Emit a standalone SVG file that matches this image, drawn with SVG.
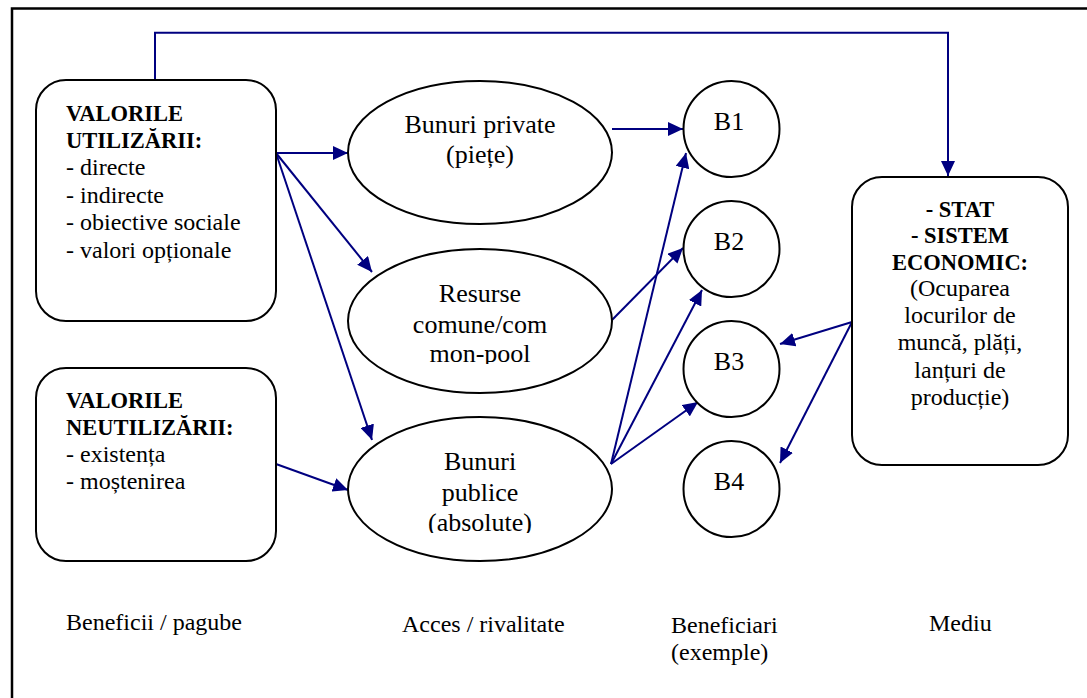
<svg xmlns="http://www.w3.org/2000/svg" width="1087" height="698" viewBox="0 0 1087 698" font-family="Liberation Serif, serif">
<style>
.shape{fill:#fff;stroke:#000;stroke-width:2}
.frame{fill:none;stroke:#000;stroke-width:2.5}
.con{fill:none;stroke:#000080;stroke-width:2}
</style>
<defs>
<marker id="ah" markerUnits="userSpaceOnUse" markerWidth="16" markerHeight="14" refX="15" refY="7" orient="auto">
<path d="M0,0 L15,7 L0,14 z" fill="#000080"/>
</marker>
<clipPath id="c2"><rect x="340" y="240" width="280" height="124"/></clipPath>
<clipPath id="c3"><rect x="340" y="410" width="280" height="123"/></clipPath>
</defs>
<rect class="frame" x="12" y="8.5" width="1200" height="800"/>
<g id="connectors">
<polyline class="con" points="155,80 155,32.7 948,32.7 948,176" marker-end="url(#ah)"/>
<line class="con" x1="276" y1="153" x2="348" y2="153" marker-end="url(#ah)"/>
<line class="con" x1="276" y1="153" x2="372" y2="272" marker-end="url(#ah)"/>
<line class="con" x1="276" y1="153" x2="372" y2="440" marker-end="url(#ah)"/>
<line class="con" x1="276" y1="464" x2="348" y2="490" marker-end="url(#ah)"/>
<line class="con" x1="612" y1="129" x2="683" y2="129" marker-end="url(#ah)"/>
<line class="con" x1="612" y1="320" x2="683" y2="248" marker-end="url(#ah)"/>
<line class="con" x1="611" y1="464" x2="686" y2="153" marker-end="url(#ah)"/>
<line class="con" x1="611" y1="464" x2="702" y2="290" marker-end="url(#ah)"/>
<line class="con" x1="611" y1="464" x2="698" y2="402" marker-end="url(#ah)"/>
<line class="con" x1="852" y1="322" x2="780" y2="344" marker-end="url(#ah)"/>
<line class="con" x1="852" y1="322" x2="780" y2="463" marker-end="url(#ah)"/>
</g>
<g id="box-utilizarii" font-family="Liberation Serif, serif" font-size="24">
<rect class="shape" x="36" y="80" width="240" height="241" rx="30" ry="30"/>
<text x="66" y="121" font-weight="bold" font-size="22.5">VALORILE</text>
<text x="66" y="148" font-weight="bold" font-size="22.5">UTILIZĂRII:</text>
<text x="66" y="175">- directe</text>
<text x="66" y="202.5">- indirecte</text>
<text x="66" y="230">- obiective sociale</text>
<text x="66" y="257.5">- valori opționale</text>
</g>
<g id="box-neutilizarii" font-family="Liberation Serif, serif" font-size="24">
<rect class="shape" x="36" y="368" width="240" height="193" rx="30" ry="30"/>
<text x="66" y="408" font-weight="bold" font-size="22.5">VALORILE</text>
<text x="66" y="435" font-weight="bold" font-size="22.5">NEUTILIZĂRII:</text>
<text x="66" y="462">- existența</text>
<text x="66" y="489">- moștenirea</text>
</g>
<g id="bunuri-private" font-family="Liberation Serif, serif" font-size="26" text-anchor="middle">
<ellipse class="shape" cx="480" cy="152.5" rx="132" ry="71.5"/>
<text x="480" y="133">Bunuri private</text>
<text x="480" y="163">(piețe)</text>
</g>
<g id="resurse-comune" font-family="Liberation Serif, serif" font-size="26" text-anchor="middle">
<ellipse class="shape" cx="480" cy="321" rx="132" ry="72"/>
<g clip-path="url(#c2)">
<text x="480" y="302">Resurse</text>
<text x="480" y="332.5">comune/com</text>
<text x="480" y="362">mon-pool</text>
</g>
</g>
<g id="bunuri-publice" font-family="Liberation Serif, serif" font-size="26" text-anchor="middle">
<ellipse class="shape" cx="480" cy="489" rx="132" ry="72"/>
<g clip-path="url(#c3)">
<text x="480" y="470">Bunuri</text>
<text x="480" y="500.5">publice</text>
<text x="480" y="531">(absolute)</text>
</g>
</g>
<g id="b1" font-family="Liberation Serif, serif" font-size="26" text-anchor="middle">
<circle class="shape" cx="731.5" cy="129" r="48"/>
<text x="729" y="130">B1</text>
</g>
<g id="b2" font-family="Liberation Serif, serif" font-size="26" text-anchor="middle">
<circle class="shape" cx="731.5" cy="249" r="48"/>
<text x="729" y="250">B2</text>
</g>
<g id="b3" font-family="Liberation Serif, serif" font-size="26" text-anchor="middle">
<circle class="shape" cx="731.5" cy="369" r="48"/>
<text x="729" y="370">B3</text>
</g>
<g id="b4" font-family="Liberation Serif, serif" font-size="26" text-anchor="middle">
<circle class="shape" cx="731.5" cy="489" r="48"/>
<text x="729" y="490">B4</text>
</g>
<g id="box-stat" font-family="Liberation Serif, serif" font-size="24" text-anchor="middle">
<rect class="shape" x="852" y="177" width="216" height="288" rx="30" ry="30"/>
<text x="960" y="216.7" font-weight="bold" font-size="22.5">- STAT</text>
<text x="960" y="243.3" font-weight="bold" font-size="22.5">- SISTEM</text>
<text x="960" y="269.5" font-weight="bold" font-size="22.5">ECONOMIC:</text>
<text x="960" y="296">(Ocuparea</text>
<text x="960" y="323">locurilor de</text>
<text x="960" y="350">muncă, plăți,</text>
<text x="960" y="377.5">lanțuri de</text>
<text x="960" y="405">producție)</text>
</g>
<g id="labels" font-family="Liberation Serif, serif" font-size="24">
<text x="66" y="630">Beneficii / pagube</text>
<text x="402" y="631.5">Acces / rivalitate</text>
<text x="671" y="633">Beneficiari</text>
<text x="671" y="660">(exemple)</text>
<text x="929" y="631">Mediu</text>
</g>
</svg>
